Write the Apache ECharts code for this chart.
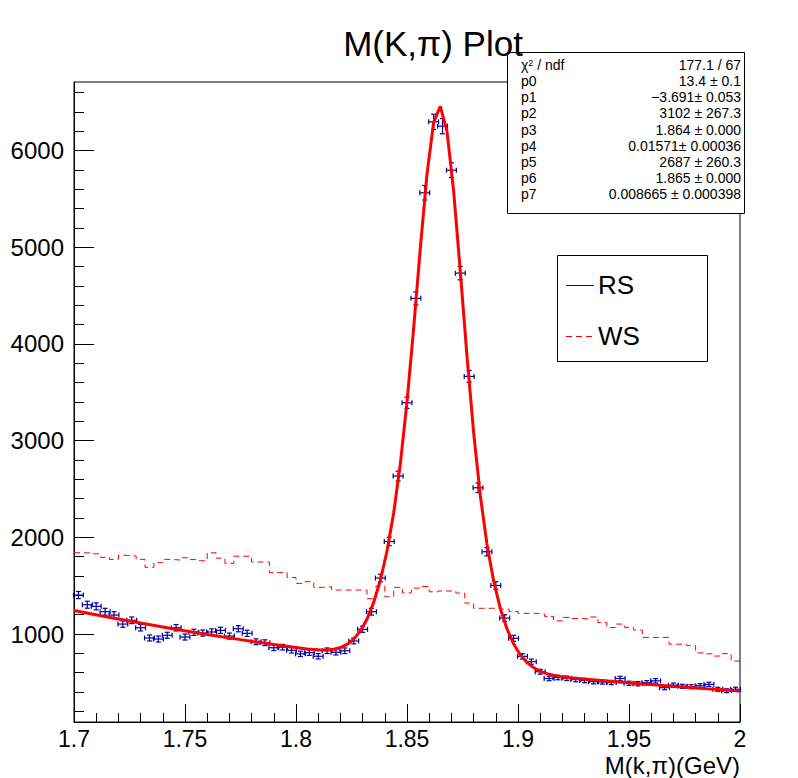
<!DOCTYPE html>
<html>
<head>
<meta charset="utf-8">
<title>M(K,π) Plot</title>
<script src="https://cdn.jsdelivr.net/npm/echarts@6/dist/echarts.min.js"></script>
<style>
  html, body { margin: 0; padding: 0; background: #fff; }
  #main { width: 798px; height: 778px; }
</style>
</head>
<body>
<div id="main"></div>
<script>
// binning shared by RS and WS
const binLow = 1.7;
const binWidth = 0.004;

// right sign candidates, counts per bin (points with errors)
const rsCounts = [1403, 1303, 1286, 1231, 1196, 1103, 1142, 1065, 959, 948,
  987, 1065, 969, 1018, 1010, 1021, 1038, 979, 1055, 1007,
  920, 910, 858, 864, 832, 795, 807, 770, 827, 811,
  827, 928, 1049, 1231, 1579, 1957, 2634, 3392, 4472, 5564,
  6298, 6253, 5798, 4733, 3665, 2513, 1851, 1502, 1165, 956,
  769, 714, 610, 540, 550, 542, 529, 519, 507, 504,
  498, 540, 490, 486, 496, 516, 445, 471, 459, 455,
  465, 480, 428, 413, 429];
const rsErrors = [37, 36, 36, 35, 35, 33, 34, 33, 31, 31,
  31, 33, 31, 32, 32, 32, 32, 31, 32, 32,
  30, 30, 29, 29, 29, 28, 28, 28, 29, 28,
  29, 30, 32, 35, 40, 44, 51, 58, 67, 75,
  79, 79, 76, 69, 61, 50, 43, 39, 34, 31,
  28, 27, 25, 23, 23, 23, 23, 23, 23, 22,
  22, 23, 22, 22, 22, 23, 21, 22, 21, 21,
  22, 22, 21, 20, 21];

// wrong sign candidates (dashed histogram)
const wsCounts = [1841, 1838, 1830, 1793, 1772, 1814, 1807, 1772, 1690, 1738,
  1772, 1765, 1789, 1770, 1758, 1840, 1785, 1731, 1805, 1805,
  1745, 1745, 1636, 1636, 1585, 1524, 1541, 1483, 1489, 1455,
  1455, 1455, 1455, 1365, 1496, 1386, 1483, 1425, 1475, 1492,
  1437, 1445, 1445, 1424, 1320, 1266, 1266, 1268, 1258, 1233,
  1214, 1214, 1207, 1182, 1136, 1172, 1160, 1158, 1176, 1119,
  1067, 1103, 1069, 1041, 965, 965, 965, 895, 895, 880,
  805, 795, 772, 797, 720];

// fit curve
const fitX = [1.700, 1.715, 1.730, 1.745, 1.760, 1.775, 1.790, 1.805,
  1.811, 1.814, 1.817, 1.820, 1.823, 1.826, 1.829, 1.832, 1.835, 1.838,
  1.841, 1.844, 1.847, 1.850, 1.853, 1.856, 1.859, 1.862, 1.865, 1.868,
  1.871, 1.874, 1.877, 1.880, 1.883, 1.886, 1.889, 1.892, 1.895, 1.898,
  1.901, 1.904, 1.907, 1.910, 1.913, 1.916, 1.919,
  1.925, 1.940, 1.955, 1.970, 1.985, 2.000];
const fitY = [1243, 1176, 1113, 1053, 996, 942, 891, 844,
  836, 836, 842, 860, 892, 947, 1032, 1155, 1327, 1556,
  1859, 2252, 2760, 3401, 4165, 4991, 5754, 6292, 6459, 6203,
  5584, 4754, 3880, 3088, 2436, 1932, 1552, 1267, 1055, 899,
  786, 707, 652, 615, 590, 573, 561,
  543, 513, 485, 459, 434, 411];

// axis ticks
const xTicks = [1.7, 1.75, 1.8, 1.85, 1.9, 1.95, 2];
const xMinorTicks = [1.71, 1.72, 1.73, 1.74, 1.76, 1.77, 1.78, 1.79, 1.81, 1.82, 1.83, 1.84,
  1.86, 1.87, 1.88, 1.89, 1.91, 1.92, 1.93, 1.94, 1.96, 1.97, 1.98, 1.99];
const yTicks = [1000, 2000, 3000, 4000, 5000, 6000];
const yMinorTicks = [200, 400, 600, 800, 1200, 1400, 1600, 1800, 2200, 2400, 2600, 2800,
  3200, 3400, 3600, 3800, 4200, 4400, 4600, 4800, 5200, 5400, 5600, 5800, 6200, 6400, 6600];

// stats box
const statNames = ['p0', 'p1', 'p2', 'p3', 'p4', 'p5', 'p6', 'p7'];
const statValues = ['13.4 ± 0.1', '−3.691± 0.053', '3102 ± 267.3', '1.864 ± 0.000',
  '0.01571± 0.00036', '2687 ± 260.3', '1.865 ± 0.000', '0.008665 ± 0.000398'];
const chi2Text = '177.1 / 67';

const FONT = '"Liberation Sans", Arial, Helvetica, sans-serif';

let wsData = wsCounts.map((v, i) => [binLow + i * binWidth, v]);
wsData.push([binLow + wsCounts.length * binWidth, wsCounts[wsCounts.length - 1]]);
let rsData = rsCounts.map((v, i) => [binLow + (i + 0.5) * binWidth, v, rsErrors[i]]);
let fitData = fitX.map((x, i) => [x, fitY[i]]);

function renderErr(params, api) {
  let x = api.value(0), y = api.value(1), e = api.value(2);
  let c = api.coord([x, y]);
  let l = api.coord([x - binWidth / 2, y])[0] - 0.5;
  let r = api.coord([x + binWidth / 2, y])[0] + 0.5;
  let t = api.coord([x, y + e])[1];
  let b = api.coord([x, y - e])[1];
  let st = { stroke: '#0000a0', lineWidth: 1.2 };
  let cap = 2.5;
  let line = (x1, y1, x2, y2) => ({ type: 'line', shape: { x1, y1, x2, y2 }, style: st });
  return {
    type: 'group',
    children: [
      line(l, c[1], r, c[1]),
      line(c[0], t, c[0], b),
      line(c[0] - cap, t, c[0] + cap, t),
      line(c[0] - cap, b, c[0] + cap, b),
      line(l, c[1] - cap, l, c[1] + cap),
      line(r, c[1] - cap, r, c[1] + cap)
    ]
  };
}

let graphics = [
  // title, drawn above the stats box
  { type: 'text', x: 433, y: 43, z: 20,
    style: { text: 'M(K,π) Plot', fontSize: 35, fontFamily: FONT, fill: '#000', align: 'center', verticalAlign: 'middle' } },
  // x axis title
  { type: 'text', x: 740, y: 765, z: 10,
    style: { text: 'M(k,π)(GeV)', fontSize: 24, fontFamily: FONT, fill: '#000', align: 'right', verticalAlign: 'middle' } },
  // stats box
  { type: 'rect', z: 10, shape: { x: 507.5, y: 52.5, width: 237, height: 161 },
    style: { fill: '#fff', stroke: '#000', lineWidth: 1 } },
  { type: 'text', x: 521, y: 65, z: 11,
    style: { text: '{a|χ}{s|2}{a| / ndf}', fontFamily: FONT, fill: '#000', verticalAlign: 'middle',
      rich: { a: { fontSize: 14, fontFamily: FONT }, s: { fontSize: 9, fontFamily: FONT, verticalAlign: 'top' } } } },
  { type: 'text', x: 741, y: 65, z: 11,
    style: { text: chi2Text, fontSize: 14, fontFamily: FONT, fill: '#000', align: 'right', verticalAlign: 'middle' } },
  // legend
  { type: 'rect', z: 10, shape: { x: 557.5, y: 255.5, width: 150, height: 106 },
    style: { fill: '#fff', stroke: '#000', lineWidth: 1 } },
  { type: 'line', z: 11, shape: { x1: 566, y1: 285.5, x2: 594, y2: 285.5 },
    style: { stroke: '#0000c0', lineWidth: 1 } },
  { type: 'text', x: 598, y: 285, z: 11,
    style: { text: 'RS', fontSize: 26, fontFamily: FONT, fill: '#000', verticalAlign: 'middle' } },
  { type: 'line', z: 11, shape: { x1: 566, y1: 336.5, x2: 594, y2: 336.5 },
    style: { stroke: '#ff0000', lineWidth: 1, lineDash: [6, 4] } },
  { type: 'text', x: 598, y: 336, z: 11,
    style: { text: 'WS', fontSize: 26, fontFamily: FONT, fill: '#000', verticalAlign: 'middle' } }
];
statNames.forEach((n, i) => {
  let y = 81 + i * 16.2;
  graphics.push({ type: 'text', x: 521, y: y, z: 11,
    style: { text: n, fontSize: 14, fontFamily: FONT, fill: '#000', verticalAlign: 'middle' } });
  graphics.push({ type: 'text', x: 741, y: y, z: 11,
    style: { text: statValues[i], fontSize: 14, fontFamily: FONT, fill: '#000', align: 'right', verticalAlign: 'middle' } });
});

let chart = echarts.init(document.getElementById('main'), null, { renderer: 'svg' });
let option = {
  animation: false,
  backgroundColor: '#fff',
  textStyle: { fontFamily: FONT },
  grid: { left: 74, right: 58, top: 82, bottom: 56, show: true, borderColor: '#000', borderWidth: 1,
    outerBoundsMode: 'none' },
  xAxis: [
    { type: 'value', min: 1.7, max: 2.0, position: 'bottom',
      axisLine: { show: true, lineStyle: { color: '#000', width: 1 } },
      axisTick: { show: true, inside: true, length: 18, customValues: xTicks, lineStyle: { color: '#000' } },
      axisLabel: { customValues: xTicks, fontSize: 23, color: '#000', fontFamily: FONT, margin: 5,
        formatter: v => String(Number(v.toFixed(2))) },
      splitLine: { show: false } },
    { type: 'value', min: 1.7, max: 2.0, position: 'bottom',
      axisLine: { show: false },
      axisTick: { show: true, inside: true, length: 9, customValues: xMinorTicks, lineStyle: { color: '#000' } },
      axisLabel: { show: false },
      splitLine: { show: false } }
  ],
  yAxis: [
    { type: 'value', min: 90, max: 6710, position: 'left',
      axisLine: { show: true, lineStyle: { color: '#000', width: 1 } },
      axisTick: { show: true, inside: true, length: 20, customValues: yTicks, lineStyle: { color: '#000' } },
      axisLabel: { customValues: yTicks, fontSize: 24, color: '#000', fontFamily: FONT, margin: 10,
        formatter: v => String(v) },
      splitLine: { show: false } },
    { type: 'value', min: 90, max: 6710, position: 'left',
      axisLine: { show: false },
      axisTick: { show: true, inside: true, length: 10, customValues: yMinorTicks, lineStyle: { color: '#000' } },
      axisLabel: { show: false },
      splitLine: { show: false } }
  ],
  series: [
    { name: 'RS', type: 'custom', renderItem: renderErr, data: rsData, z: 2,
      encode: { x: 0, y: 1 } },
    { name: 'WS', type: 'line', step: 'end', data: wsData, symbol: 'none', z: 3,
      lineStyle: { color: '#ff0000', width: 1, type: [6, 4] } },
    { name: 'fit', type: 'line', data: fitData, symbol: 'none', z: 4,
      lineStyle: { color: '#ff0000', width: 3 } }
  ],
  graphic: graphics
};
chart.setOption(option);
</script>
</body>
</html>
